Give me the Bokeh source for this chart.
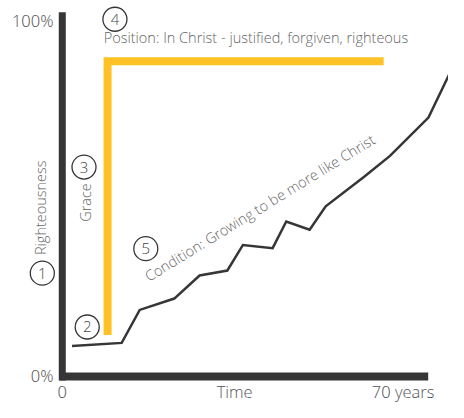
import math
from bokeh.plotting import figure
from bokeh.models import Range1d
from bokeh.core.properties import value
from bokeh.embed import file_html
from bokeh.resources import INLINE

# ---- data ----
# Condition: growth over a lifetime (years vs % righteousness)
years = [2.0, 12.2, 15.9, 23.0, 28.2, 33.9, 37.1, 43.2, 46.0, 50.8, 54.1, 62.0, 67.3, 75.2, 79.5]
condition = [8.3, 9.2, 18.5, 21.7, 28.2, 29.6, 36.8, 35.9, 43.4, 41.1, 47.7, 56.0, 61.9, 72.7, 85.0]

# Position: grace lifts to full righteousness
position_x = [9.3, 9.3, 66.0]
position_y = [11.4, 88.6, 88.6]

# numbered markers
marker_labels = ["1", "2", "3", "4", "5"]
marker_x = [-4.10, 5.12, 4.46, 10.81, 17.15]
marker_y = [28.86, 13.69, 58.75, 100.4, 35.77]

# tick labels
y_tick_values = [0, 100]
y_tick_labels = ["0%", "100%"]
x_tick_values = [0, 35.4, 70]
x_tick_labels = ["0", "Time", "70 years"]

FONT = value("'Open Sans Light', 'Open Sans'")
DARK = "#363636"
GRAY = "#666666"

p = figure(width=448, height=402,
           x_range=Range1d(-12.69, 79.32), y_range=Range1d(-7.59, 105.69),
           x_axis_type=None, y_axis_type=None,
           output_backend="svg", toolbar_location=None, min_border=0)
p.outline_line_color = None
p.background_fill_color = "white"
p.border_fill_color = "white"

# axes bars
p.line(x=[0, 0], y=[-1.36, 102.4], line_width=7, line_color=DARK, line_cap="butt")
p.line(x=[-0.6, 75.15], y=[-0.27, -0.27], line_width=8, line_color=DARK, line_cap="butt")

# position (yellow L)
p.line(x=position_x, y=position_y, line_width=8, line_color="#FEC227",
       line_join="miter", line_cap="butt")

# condition line
p.line(x=years, y=condition, line_width=2.5, line_color=DARK, line_join="miter")

# numbered circles
p.scatter(x=marker_x, y=marker_y, marker="circle", size=24, fill_color=None,
          line_color=DARK, line_width=1.3)
p.text(x=marker_x, y=marker_y, text=marker_labels, text_font=FONT, text_font_size="15px",
       text_color="#444444", text_align="center", text_baseline="middle")

# tick labels
p.text(x=[-1.8] * len(y_tick_values), y=y_tick_values, text=y_tick_labels, text_font=FONT,
       text_font_size="16.5px", text_color="#555555", text_align="right", text_baseline="middle")
p.text(x=x_tick_values, y=[-4.5] * len(x_tick_values), text=x_tick_labels, text_font=FONT,
       text_font_size="16.5px", text_color="#555555", text_align="center", text_baseline="middle")

# annotations
p.text(x=[8.51], y=[95.26], text=["Position: In Christ - justified, forgiven, righteous"],
       text_font=FONT, text_font_size="14.5px", text_color=GRAY,
       text_align="left", text_baseline="middle")
p.text(x=[-4.56], y=[47.29], text=["Righteousness"], angle=math.pi / 2,
       text_font=FONT, text_font_size="14.5px", text_color=GRAY,
       text_align="center", text_baseline="middle")
p.text(x=[4.76], y=[48.78], text=["Grace"], angle=math.pi / 2,
       text_font=FONT, text_font_size="14.5px", text_color=GRAY,
       text_align="center", text_baseline="middle")
p.text(x=[40.59], y=[47.32], text=["Condition: Growing to be more like Christ"],
       angle=math.radians(31.5),
       text_font=FONT, text_font_size="14.5px", text_color=GRAY,
       text_align="center", text_baseline="middle")

open("out.html", "w").write(file_html(p, INLINE))
